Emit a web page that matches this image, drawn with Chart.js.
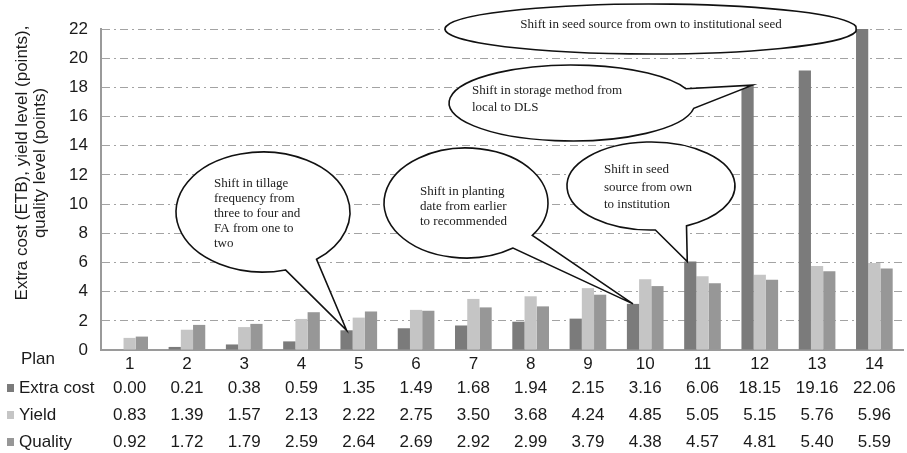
<!DOCTYPE html>
<html>
<head>
<meta charset="utf-8">
<script src="https://cdn.jsdelivr.net/npm/chart.js@4.4.1/dist/chart.umd.min.js"></script>
<style>
  html, body { margin: 0; padding: 0; background: #fff; }
  #wrap { width: 907px; height: 453px; }
</style>
</head>
<body>
<div id="wrap"><canvas id="chart"></canvas></div>
<script>
const plans = ["1", "2", "3", "4", "5", "6", "7", "8", "9", "10", "11", "12", "13", "14"];
const extraCost = [0.00, 0.21, 0.38, 0.59, 1.35, 1.49, 1.68, 1.94, 2.15, 3.16, 6.06, 18.15, 19.16, 22.06];
const yieldLevel = [0.83, 1.39, 1.57, 2.13, 2.22, 2.75, 3.50, 3.68, 4.24, 4.85, 5.05, 5.15, 5.76, 5.96];
const qualityLevel = [0.92, 1.72, 1.79, 2.59, 2.64, 2.69, 2.92, 2.99, 3.79, 4.38, 4.57, 4.81, 5.40, 5.59];
const seriesNames = ["Extra cost", "Yield", "Quality"];
const seriesColors = ["#7b7b7b", "#c5c5c5", "#979797"];
const yTitle = ["Extra cost (ETB), yield level (points),", "quality level (points)"];

// speech bubbles: plan index + series give the tip, rest is layout
const callouts = [
  { lines: ["Shift in tillage", "frequency from", "three to four and", "FA from one to", "two"],
    plan: 4, series: 0, dx: 0, cx: 263, cy: 212, rx: 87, ry: 60, gap: [52, 75], tx: 214, ty: 184, lh: 15 },
  { lines: ["Shift in planting", "date from earlier", "to recommended"],
    plan: 9, series: 0, dx: 0, cx: 466, cy: 203, rx: 82, ry: 55, gap: [36, 55], tx: 420, ty: 192, lh: 15 },
  { lines: ["Shift in seed", "source from own", "to institution"],
    plan: 10, series: 0, dx: -3, cx: 651, cy: 186, rx: 84, ry: 44, gap: [65, 87], tx: 604, ty: 170, lh: 17.5 },
  { lines: ["Shift in storage method from", "local to DLS"],
    plan: 11, series: 0, dx: 5, cx: 572, cy: 103, rx: 123, ry: 38, gap: [-22, 8], tx: 472, ty: 91, lh: 17 },
  { lines: ["Shift in seed source from own to institutional seed"],
    plan: 13, series: 0, dx: -6, cx: 651, cy: 29, rx: 206, ry: 25, gap: [-6, 6], tx: 651, ty: 25, lh: 15, align: "center" }
];

const FONT = '"Liberation Sans", Arial, sans-serif';

const calloutPlugin = {
  id: "callouts",
  afterDatasetsDraw(chart) {
    const ctx = chart.ctx;
    const area = chart.chartArea;
    callouts.forEach((c) => {
      const bar = chart.getDatasetMeta(c.series).data[c.plan];
      const tipX = bar.x + c.dx;
      const tipY = Math.max(bar.y, area.top);
      const a1 = c.gap[0] * Math.PI / 180;
      const a2 = c.gap[1] * Math.PI / 180;
      ctx.save();
      ctx.beginPath();
      ctx.ellipse(c.cx, c.cy, c.rx, c.ry, 0, a2, a1 + Math.PI * 2);
      ctx.lineTo(tipX, tipY);
      ctx.closePath();
      ctx.fillStyle = "#fff";
      ctx.fill();
      ctx.lineWidth = 1.6;
      ctx.strokeStyle = "#111";
      ctx.stroke();
      ctx.font = '13px "Liberation Serif", "Times New Roman", serif';
      ctx.fillStyle = "#222";
      ctx.textAlign = c.align || "left";
      ctx.textBaseline = "middle";
      c.lines.forEach((t, i) => ctx.fillText(t, c.tx, c.ty + i * c.lh));
      ctx.restore();
    });
  }
};

const tablePlugin = {
  id: "dataTable",
  afterDraw(chart) {
    const ctx = chart.ctx;
    const xs = chart.scales.x;
    const rows = [extraCost, yieldLevel, qualityLevel];
    ctx.save();
    ctx.font = "17px " + FONT;
    ctx.textBaseline = "middle";
    ctx.fillStyle = "#1a1a1a";
    ctx.textAlign = "left";
    ctx.fillText("Plan", 21, 359);
    rows.forEach((vals, r) => {
      const y = 388 + r * 27;
      ctx.fillStyle = seriesColors[r];
      ctx.fillRect(7, y - 4, 7, 8);
      ctx.fillStyle = "#1a1a1a";
      ctx.textAlign = "left";
      ctx.fillText(seriesNames[r], 19, y);
      ctx.textAlign = "center";
      vals.forEach((v, i) => ctx.fillText(v.toFixed(2), xs.getPixelForValue(i), y));
    });

    // y axis title, two centred lines
    ctx.translate(0, 163);
    ctx.rotate(-Math.PI / 2);
    ctx.textAlign = "center";
    ctx.fillText(yTitle[0], 0, 22);
    ctx.fillText(yTitle[1], 0, 40);
    ctx.restore();
  }
};

new Chart(document.getElementById("chart"), {
  type: "bar",
  data: {
    labels: plans,
    datasets: [extraCost, yieldLevel, qualityLevel].map((vals, i) => ({
      label: seriesNames[i],
      data: vals,
      backgroundColor: seriesColors[i],
      borderWidth: 0,
      categoryPercentage: 0.64,
      barPercentage: 1.0,
      clip: 0
    }))
  },
  options: {
    responsive: true,
    maintainAspectRatio: false,
    animation: false,
    layout: { padding: { top: 29, right: 4, left: 0, bottom: 0 } },
    plugins: {
      legend: { display: false },
      tooltip: { enabled: false }
    },
    scales: {
      x: {
        grid: { display: false, drawTicks: false },
        border: { display: true, color: "#9a9a9a", width: 2 },
        ticks: { color: "#1a1a1a", font: { size: 17, family: FONT }, padding: 4 },
        afterFit: (s) => { s.height = 103; }
      },
      y: {
        min: 0,
        max: 22,
        ticks: { stepSize: 2, color: "#1a1a1a", font: { size: 17, family: FONT }, padding: 13 },
        grid: {
          drawTicks: false,
          color: (ctx) => (ctx.tick && ctx.tick.value === 0 ? "rgba(0,0,0,0)" : "#a3a3a3"),
          lineWidth: 1
        },
        border: { display: true, color: "#9a9a9a", width: 2, dash: [8, 4, 2, 4] },
        afterFit: (s) => { s.width = 101; }
      }
    }
  },
  plugins: [calloutPlugin, tablePlugin]
});
</script>
</body>
</html>
